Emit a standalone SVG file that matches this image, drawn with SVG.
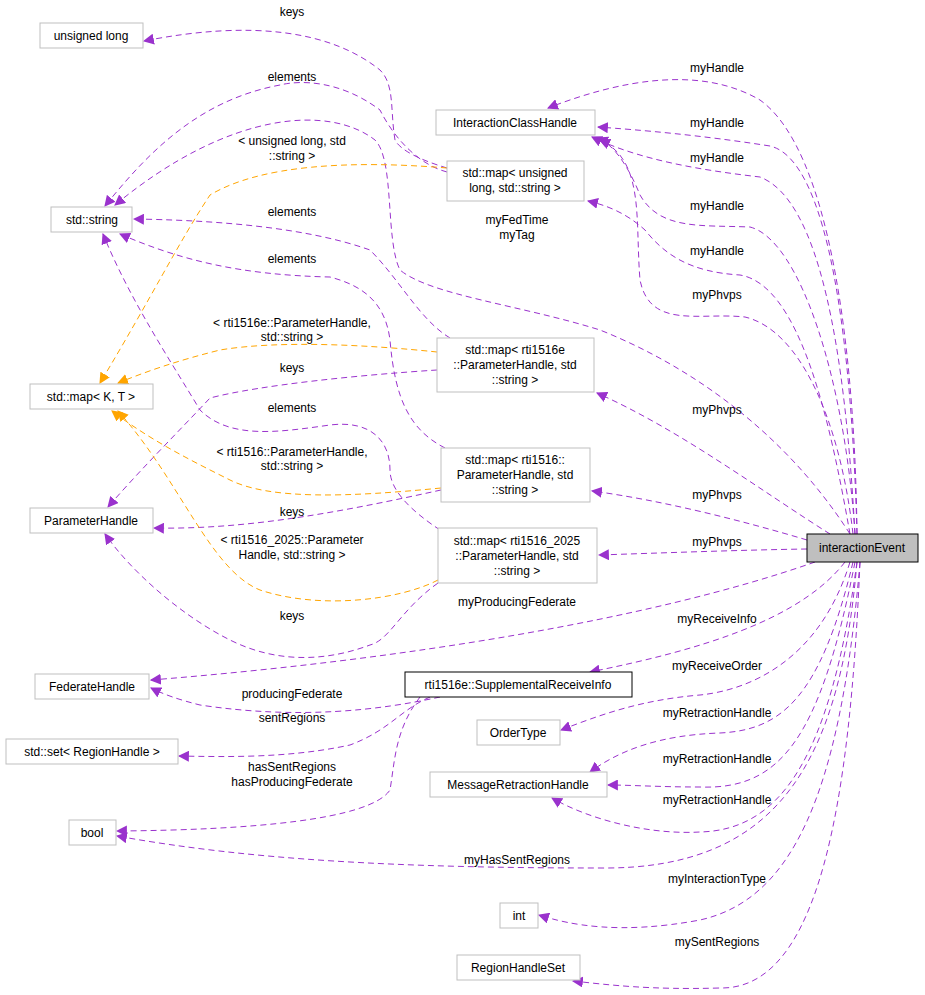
<svg xmlns="http://www.w3.org/2000/svg" width="925" height="995" viewBox="0 0 925 995">
<defs>
<marker id="ap" viewBox="0 0 10 10" refX="9" refY="5" markerWidth="11" markerHeight="11" markerUnits="userSpaceOnUse" orient="auto"><path d="M0,0 L10,5 L0,10 z" fill="#9a32cd"/></marker>
<marker id="ao" viewBox="0 0 10 10" refX="9" refY="5" markerWidth="11" markerHeight="11" markerUnits="userSpaceOnUse" orient="auto"><path d="M0,0 L10,5 L0,10 z" fill="#ffa500"/></marker>
</defs>
<style>
text{font-family:"Liberation Sans",Arial,sans-serif;font-size:12px;fill:#000;text-anchor:middle}
.n rect{fill:#fff;stroke:#bfbfbf;stroke-width:1}
.b rect{fill:#fff;stroke:#000;stroke-width:1}
.p{fill:none;stroke:#9a32cd;stroke-dasharray:6,4;marker-end:url(#ap)}
.o{fill:none;stroke:#ffa500;stroke-dasharray:6,4;marker-end:url(#ao)}
</style>
<rect width="925" height="995" fill="#fff"/>
<g id="connectors">
<path class="p" d="M857,534 C855,350 830,150 760,100 C700,65 620,80 548,108"/>
<path class="p" d="M857,534 C852,350 830,160 770,146 C700,135 640,130 598,127"/>
<path class="p" d="M855,534 C845,350 820,200 760,177 C700,170 640,160 592,137"/>
<path class="p" d="M855,534 C845,380 800,240 750,227 C700,225 660,230 640,195 C630,170 615,145 598,138"/>
<path class="p" d="M853,534 C840,420 800,330 745,317 C700,312 650,330 640,280 C635,220 645,160 600,140"/>
<path class="p" d="M850,534 C830,420 800,285 740,275 C690,272 665,255 645,230 C625,212 605,205 588,201"/>
<path class="p" d="M850,534 C790,440 700,370 600,330 C520,305 430,295 400,270 C385,240 395,160 375,140 C330,105 230,110 115,205"/>
<path class="p" d="M830,534 C760,490 680,430 597,393"/>
<path class="p" d="M807,540 C740,520 660,500 592,491"/>
<path class="p" d="M807,549 C740,550 660,553 599,555"/>
<path class="p" d="M815,562 C650,620 400,660 151,680"/>
<path class="p" d="M845,562 C800,620 700,650 590,672"/>
<path class="p" d="M850,562 C820,660 750,690 700,695 C640,700 600,715 561,730"/>
<path class="p" d="M853,562 C820,700 780,730 720,733 C660,735 620,750 590,772"/>
<path class="p" d="M855,562 C820,740 780,790 700,787 C660,787 630,785 608,785"/>
<path class="p" d="M857,562 C830,760 780,830 700,832 C650,835 590,820 552,798"/>
<path class="p" d="M857,562 C840,760 780,870 600,868 C400,868 250,860 117,836"/>
<path class="p" d="M860,562 C840,800 790,900 700,920 C620,935 570,925 539,915"/>
<path class="p" d="M860,562 C850,800 820,990 720,988 C650,990 610,985 573,981"/>
<path class="p" d="M447,168 C420,160 400,150 395,140 C390,110 395,85 380,70 C330,30 250,20 144,41"/>
<path class="p" d="M447,172 C420,165 395,140 380,110 C340,80 300,80 280,85 C200,100 150,150 105,206"/>
<path class="o" d="M447,168 C350,160 260,165 210,195 C180,240 150,300 100,383"/>
<path class="p" d="M450,338 C420,320 400,280 370,250 C300,225 200,220 134,219"/>
<path class="p" d="M445,448 C410,430 395,400 390,340 C385,300 360,285 330,277 C240,275 180,260 120,234"/>
<path class="p" d="M440,530 C410,510 390,490 390,470 C390,440 370,420 330,425 C280,432 230,440 200,410 C170,360 130,300 103,234"/>
<path class="o" d="M437,352 C370,345 280,340 220,350 C180,360 150,370 118,383"/>
<path class="p" d="M437,370 C360,375 260,385 210,398 C180,430 140,470 108,507"/>
<path class="o" d="M441,488 C350,497 270,500 230,480 C190,460 150,440 112,411"/>
<path class="p" d="M441,490 C350,510 250,530 154,528"/>
<path class="o" d="M438,580 C400,600 320,610 260,590 C210,570 180,480 118,411"/>
<path class="p" d="M438,583 C400,610 390,640 370,645 C330,660 280,665 230,640 C180,615 130,570 105,534"/>
<path class="p" d="M440,697 C380,710 300,720 200,705 C180,700 165,695 151,688"/>
<path class="p" d="M430,697 C400,710 390,730 350,745 C290,758 230,757 179,756"/>
<path class="p" d="M420,697 C395,730 395,760 390,790 C370,820 250,830 117,831"/>
</g>
<g id="labels">
<text x="717" y="72">myHandle</text>
<text x="717" y="127">myHandle</text>
<text x="717" y="162">myHandle</text>
<text x="717" y="210">myHandle</text>
<text x="717" y="255">myHandle</text>
<text x="717" y="299">myPhvps</text>
<text x="517" y="224">myFedTime</text>
<text x="517" y="239">myTag</text>
<text x="717" y="414">myPhvps</text>
<text x="717" y="499">myPhvps</text>
<text x="717" y="546">myPhvps</text>
<text x="517" y="606">myProducingFederate</text>
<text x="717" y="623">myReceiveInfo</text>
<text x="717" y="670">myReceiveOrder</text>
<text x="717" y="717">myRetractionHandle</text>
<text x="717" y="763">myRetractionHandle</text>
<text x="717" y="804">myRetractionHandle</text>
<text x="517" y="864">myHasSentRegions</text>
<text x="717" y="883">myInteractionType</text>
<text x="717" y="946">mySentRegions</text>
<text x="292" y="16">keys</text>
<text x="292" y="81">elements</text>
<text x="292" y="145">&lt; unsigned long, std</text>
<text x="292" y="160">::string &gt;</text>
<text x="292" y="216">elements</text>
<text x="292" y="263">elements</text>
<text x="292" y="327">&lt; rti1516e::ParameterHandle,</text>
<text x="292" y="341">std::string &gt;</text>
<text x="292" y="372">keys</text>
<text x="292" y="412">elements</text>
<text x="292" y="456">&lt; rti1516::ParameterHandle,</text>
<text x="292" y="470">std::string &gt;</text>
<text x="292" y="516">keys</text>
<text x="292" y="544">&lt; rti1516_2025::Parameter</text>
<text x="292" y="559">Handle, std::string &gt;</text>
<text x="292" y="620">keys</text>
<text x="292" y="698">producingFederate</text>
<text x="292" y="722">sentRegions</text>
<text x="292" y="771">hasSentRegions</text>
<text x="292" y="786">hasProducingFederate</text>
</g>
<g id="unsigned_long" class="n"><rect x="40" y="23" width="103" height="25"/><text x="91" y="40">unsigned long</text></g>
<g id="ich" class="n"><rect x="436" y="110" width="159" height="25"/><text x="515" y="127">InteractionClassHandle</text></g>
<g id="map_ul" class="n"><rect x="447" y="161" width="137" height="40"/><text x="515" y="177">std::map&lt; unsigned</text><text x="515" y="192">long, std::string &gt;</text></g>
<g id="std_string" class="n"><rect x="51" y="207" width="81" height="25"/><text x="92" y="224">std::string</text></g>
<g id="map_kt" class="n"><rect x="30" y="384" width="123" height="25"/><text x="91" y="401">std::map&lt; K, T &gt;</text></g>
<g id="map_1516e" class="n"><rect x="437" y="338" width="157" height="54"/><text x="515" y="354">std::map&lt; rti1516e</text><text x="515" y="369">::ParameterHandle, std</text><text x="515" y="384">::string &gt;</text></g>
<g id="map_1516" class="n"><rect x="441" y="448" width="149" height="54"/><text x="515" y="464">std::map&lt; rti1516::</text><text x="515" y="479">ParameterHandle, std</text><text x="515" y="494">::string &gt;</text></g>
<g id="param_handle" class="n"><rect x="30" y="508" width="123" height="25"/><text x="91" y="525">ParameterHandle</text></g>
<g id="map_2025" class="n"><rect x="438" y="528" width="159" height="55"/><text x="517" y="545">std::map&lt; rti1516_2025</text><text x="517" y="560">::ParameterHandle, std</text><text x="517" y="575">::string &gt;</text></g>
<g id="interactionEvent"><rect x="807" y="534" width="111" height="28" fill="#bfbfbf" stroke="#000"/><text x="862" y="552">interactionEvent</text></g>
<g id="federate_handle" class="n"><rect x="35" y="674" width="114" height="25"/><text x="92" y="691">FederateHandle</text></g>
<g id="sri" class="b"><rect x="405" y="672" width="227" height="25"/><text x="518" y="689">rti1516e::SupplementalReceiveInfo</text></g>
<g id="set_rh" class="n"><rect x="6" y="739" width="172" height="25"/><text x="92" y="756">std::set&lt; RegionHandle &gt;</text></g>
<g id="order_type" class="n"><rect x="477" y="720" width="83" height="25"/><text x="518" y="737">OrderType</text></g>
<g id="mrh" class="n"><rect x="430" y="772" width="177" height="25"/><text x="518" y="789">MessageRetractionHandle</text></g>
<g id="bool" class="n"><rect x="69" y="820" width="47" height="25"/><text x="92" y="837">bool</text></g>
<g id="int" class="n"><rect x="500" y="903" width="38" height="25"/><text x="519" y="920">int</text></g>
<g id="rhs" class="n"><rect x="457" y="955" width="123" height="25"/><text x="518" y="972">RegionHandleSet</text></g>
</svg>
